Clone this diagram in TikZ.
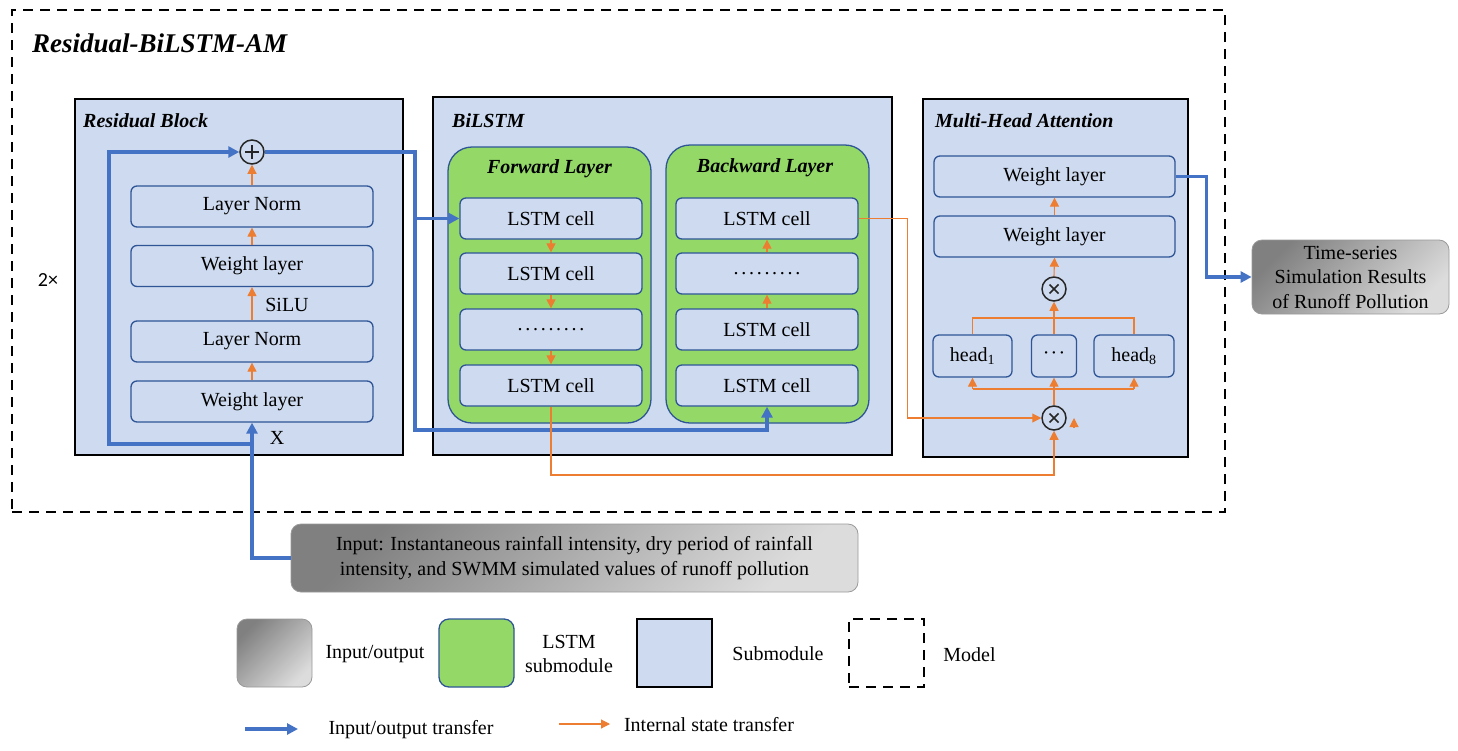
\documentclass[tikz,border=0pt]{standalone}
\usepackage{fontspec}
\setmainfont{Liberation Serif}
\newfontfamily\calfont{Carlito}
\usetikzlibrary{arrows.meta,calc}
\definecolor{panelblue}{RGB}{205,218,239}
\definecolor{cellborder}{RGB}{47,85,151}
\definecolor{lstmgreen}{RGB}{148,217,104}
\definecolor{ioblue}{RGB}{68,114,196}
\definecolor{stateorange}{RGB}{237,125,49}
\definecolor{graydark}{RGB}{128,128,128}
\definecolor{graylight}{RGB}{220,220,220}
\newcommand{\ninedots}{.\kern2.7pt.\kern2.7pt.\kern2.7pt.\kern2.7pt.\kern2.7pt.\kern2.7pt.\kern2.7pt.\kern2.7pt.}
\newcommand{\middots}{\textperiodcentered\kern1.2pt\textperiodcentered\kern1.2pt\textperiodcentered}
\newcommand{\fsz}{\fontsize{20}{24.5}\selectfont}
\newcommand{\tsz}{\fontsize{20}{24}\selectfont\bfseries\itshape}
\begin{document}
\begin{tikzpicture}[x=1pt,y=-1pt,
  panel/.style={draw=black, line width=1.6pt, fill=panelblue, inner sep=0},
  model/.style={draw=black, line width=2.8pt, dash pattern=on 10pt off 7pt, inner sep=0},
  cell/.style={draw=cellborder, line width=1.3pt, fill=panelblue, rounded corners=6pt, inner sep=0, font=\fsz},
  greenbox/.style={draw=cellborder, line width=1.3pt, fill=lstmgreen, rounded corners=24pt, inner sep=0},
  iobox/.style={draw=gray!80, line width=0.8pt, rounded corners=10pt, top color=graydark, bottom color=graylight, shading angle=45, inner sep=0, font=\fsz, align=center},
  title/.style={anchor=west, font=\tsz, inner sep=0},
  lbl/.style={font=\fsz, inner sep=0},
  blueline/.style={draw=ioblue, line width=3.3pt},
  bluearr/.style={blueline, -{Triangle[length=11pt,width=11pt]}},
  orline/.style={draw=stateorange, line width=1.1pt},
  orarr/.style={orline, -{Triangle[length=9pt,width=9pt]}},
  addnode/.style={circle, draw=black!85, line width=1.5pt, minimum size=24pt, inner sep=0,
    path picture={\draw[line width=1.5pt] (path picture bounding box.center) ++(-7pt,0) -- ++(14pt,0)
      (path picture bounding box.center) ++(0,-7pt) -- ++(0,14pt);}},
  mulnode/.style={circle, draw=black!85, line width=1.5pt, minimum size=24pt, inner sep=0,
    path picture={\draw[line width=1.6pt] (path picture bounding box.center) ++(-4.5pt,-4.5pt) -- ++(9pt,9pt)
      (path picture bounding box.center) ++(-4.5pt,4.5pt) -- ++(9pt,-9pt);}}
]
\useasboundingbox (0,0) rectangle (1458,750);

% model frame
\node[model, minimum width=1213, minimum height=502] (modelbox) at (618.5,261) {};
\node[title, font=\fontsize{27}{30}\selectfont\bfseries\itshape] (mtitle) at (32,43) {Residual-BiLSTM-AM};
\node[font=\calfont\fontsize{20}{24}\selectfont, inner sep=0] (rep) at (48,280) {2×};

% panels
\node[panel, minimum width=328, minimum height=356] (rpanel) at (239,277) {};
\node[panel, minimum width=459, minimum height=358] (bpanel) at (662.5,276) {};
\node[panel, minimum width=265, minimum height=358] (apanel) at (1055.5,278) {};
\node[title] (rtitle) at (83,121) {Residual Block};
\node[title] (btitle) at (452,121) {BiLSTM};
\node[title] (atitle) at (935,121) {Multi-Head Attention};

% residual block
\node[cell, minimum width=242, minimum height=41] (rnt) at (252,206.5) {Layer Norm};
\node[cell, minimum width=242, minimum height=41] (rwt) at (252,266) {Weight layer};
\node[cell, minimum width=242, minimum height=41] (rnb) at (252,341.5) {Layer Norm};
\node[cell, minimum width=242, minimum height=41] (rwb) at (252,401.5) {Weight layer};
\node[addnode] (plus) at (252,152) {};
\node[lbl] (silu) at (287,305) {SiLU};
\node[lbl] (xlbl) at (277,438) {X};
\draw[orarr] (rwb.north) -- (rnb.south);
\draw[orarr] (rnb.north) -- (rwt.south);
\draw[orarr] (rwt.north) -- (rnt.south);
\draw[orarr] (rnt.north) -- (plus.south);

% BiLSTM
\node[greenbox, minimum width=203, minimum height=276] (fwd) at (549.5,285) {};
\node[greenbox, minimum width=203, minimum height=278] (bwd) at (767.5,284) {};
\node[font=\tsz, inner sep=0] (ftitle) at (549.5,169) {Forward Layer};
\node[font=\tsz, inner sep=0] (bktitle) at (765,168) {Backward Layer};
\node[cell, minimum width=182, minimum height=41] (f1) at (551,218.5) {LSTM cell};
\node[cell, minimum width=182, minimum height=41] (f2) at (551,273.5) {LSTM cell};
\node[cell, minimum width=182, minimum height=41] (f3) at (551,329.5) {\ninedots};
\node[cell, minimum width=182, minimum height=41] (f4) at (551,385.5) {LSTM cell};
\node[cell, minimum width=182, minimum height=41] (b1) at (767,218.5) {LSTM cell};
\node[cell, minimum width=182, minimum height=41] (b2) at (767,273.5) {\ninedots};
\node[cell, minimum width=182, minimum height=41] (b3) at (767,329.5) {LSTM cell};
\node[cell, minimum width=182, minimum height=41] (b4) at (767,385.5) {LSTM cell};
\draw[orarr] (f1.south) -- (f2.north);
\draw[orarr] (f2.south) -- (f3.north);
\draw[orarr] (f3.south) -- (f4.north);
\draw[orarr] (b3.north) -- (b2.south);
\draw[orarr] (b2.north) -- (b1.south);

% attention
\node[cell, minimum width=241, minimum height=41] (mw2) at (1054.5,176.5) {Weight layer};
\node[cell, minimum width=241, minimum height=41] (mw1) at (1054.5,236.5) {Weight layer};
\node[mulnode] (mx2) at (1054,289) {};
\node[mulnode] (mx1) at (1054,418) {};
\node[cell, minimum width=79, minimum height=42] (h1) at (972.5,356) {head\textsubscript{1}};
\node[cell, minimum width=45, minimum height=42] (hd) at (1054,356) {\middots};
\node[cell, minimum width=80, minimum height=42] (h8) at (1134,356) {head\textsubscript{8}};
\coordinate (hbl) at (972.5,389);
\coordinate (hbr) at (1134,389);
\coordinate (htl) at (972.5,318);
\coordinate (htr) at (1134,318);
\draw[orline] (hbl) -- (hbr);
\draw[orarr] (hbl) -- (h1.south);
\draw[orarr] (hbr) -- (h8.south);
\draw[orarr] (mx1.north) -- (hd.south);
\draw[orline] (h1.north) -- (htl) -- (htr) -- (h8.north);
\draw[orarr] (hd.north) -- (mx2.south);
\draw[orarr] (mx2.north) -- (mw1.south);
\draw[orarr] (mw1.north) -- (mw2.south);
\coordinate (ta) at (1074,428);
\draw[orarr] (ta) -- ++(0,-10);

% input / output
\node[iobox, minimum width=567, minimum height=68] (inp) at (574.5,558) {Input: Instantaneous rainfall intensity, dry period of rainfall\\intensity, and SWMM simulated values of runoff pollution};
\node[iobox, minimum width=197, minimum height=74] (out) at (1350.5,277) {Time-series\\Simulation Results\\of Runoff Pollution};

% blue connectors
\coordinate (rl) at (109,444);
\coordinate (bx) at (415,430);
\draw[bluearr] (inp.west) -| (rwb.south);
\draw[bluearr] (rwb.south |- rl) -- (rl) |- (plus.west);
\draw[bluearr] (plus.east) -| (bx) -| (b4.south);
\draw[bluearr] (bx |- f1.west) -- (f1.west);
\draw[bluearr] (mw2.east) -- ++(31,0) |- (out.west);

% orange connectors
\coordinate (ob) at (551,475);
\draw[orarr] (b1.east) -- ++(49,0) |- (mx1.west);
\draw[orarr] (f4.south) -- (ob) -| (mx1.south);

% legend
\node[iobox, minimum width=75, minimum height=68] (lg1) at (274.5,653) {};
\node[lbl] (lt1) at (375,654) {Input/output};
\node[greenbox, rounded corners=10pt, minimum width=75, minimum height=68] (lg2) at (476.5,653) {};
\node[lbl, align=center] (lt2) at (569,654) {LSTM\\submodule};
\node[panel, line width=1.4pt, minimum width=75, minimum height=68] (lg3) at (674.5,653) {};
\node[lbl] (lt3) at (778,654) {Submodule};
\node[model, minimum width=75, minimum height=68] (lg4) at (886.5,653) {};
\node[lbl] (lt4) at (969.5,655) {Model};
\coordinate (la1) at (245,729);
\coordinate (la2) at (298,729);
\draw[bluearr] (la1) -- (la2);
\node[lbl] (lt5) at (411,730) {Input/output transfer};
\coordinate (lo1) at (559,724);
\coordinate (lo2) at (610,724);
\draw[orarr] (lo1) -- (lo2);
\node[lbl] (lt6) at (709,725) {Internal state transfer};
\end{tikzpicture}
\end{document}
